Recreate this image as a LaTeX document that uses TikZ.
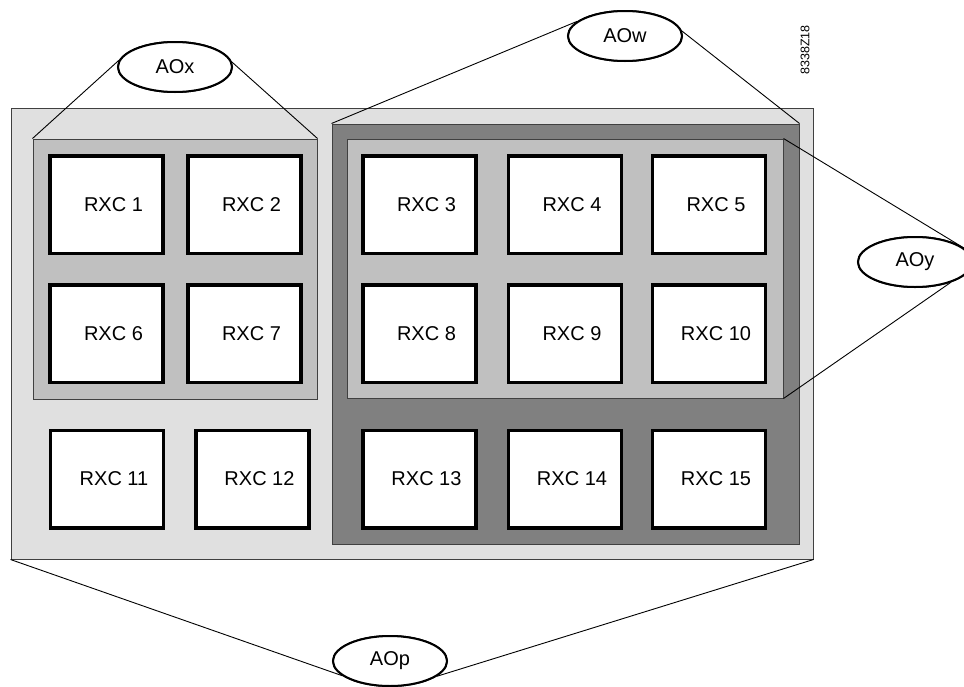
\documentclass[tikz,border=0pt]{standalone}
\usepackage{fontspec}
\setmainfont{Liberation Sans}
\usetikzlibrary{shapes.geometric}
\definecolor{AreaLight}{HTML}{E0E0E0}
\definecolor{AreaMid}{HTML}{C0C0C0}
\definecolor{AreaDark}{HTML}{808080}
\definecolor{AreaEdge}{HTML}{404040}

\begin{document}
\begin{tikzpicture}[x=1pt,y=-1pt,
    every node/.style={font=\fontsize{20}{24}\selectfont, inner sep=0pt},
    area/.style={draw=AreaEdge, line width=1pt, minimum width=#1},
    rxc/.style={draw=black, fill=white, line width=3.5pt, minimum width=113pt, minimum height=97.5pt},
    rxctext/.style={xshift=7pt},
    aotag/.style={ellipse, draw=black, fill=white, line width=2pt, minimum width=114pt, minimum height=50pt},
    tagline/.style={draw=black, line width=0.9pt}]
    \useasboundingbox (0,0) rectangle (964,686);

    % nested areas
    \node[area=802pt, fill=AreaLight, minimum height=451pt] (aop) at (412,333.5) {};
    \node[area=284pt, fill=AreaMid, minimum height=260pt] (aox) at (175,269) {};
    \node[area=467pt, fill=AreaDark, minimum height=420pt] (aow) at (565.5,334) {};
    \node[area=436pt, fill=AreaMid, minimum height=259pt] (aoy) at (565,268.5) {};

    % RXC units
    \node[rxc, label={[rxctext]center:RXC 1}] (rxc1) at (106.5,204.5) {};
    \node[rxc, label={[rxctext]center:RXC 2}] (rxc2) at (244.5,204.5) {};
    \node[rxc, label={[rxctext]center:RXC 3}] (rxc3) at (419.5,204.5) {};
    \node[rxc, label={[rxctext]center:RXC 4}] (rxc4) at (565,204.5) {};
    \node[rxc, label={[rxctext]center:RXC 5}] (rxc5) at (709,204.5) {};
    \node[rxc, label={[rxctext]center:RXC 6}] (rxc6) at (106.5,333.5) {};
    \node[rxc, label={[rxctext]center:RXC 7}] (rxc7) at (244.5,333.5) {};
    \node[rxc, label={[rxctext]center:RXC 8}] (rxc8) at (419.5,333.5) {};
    \node[rxc, label={[rxctext]center:RXC 9}] (rxc9) at (565,333.5) {};
    \node[rxc, label={[rxctext]center:RXC 10}] (rxc10) at (709,333.5) {};
    \node[rxc, label={[rxctext]center:RXC 11}] (rxc11) at (107,479) {};
    \node[rxc, label={[rxctext]center:RXC 12}] (rxc12) at (252.5,479) {};
    \node[rxc, label={[rxctext]center:RXC 13}] (rxc13) at (419.5,479) {};
    \node[rxc, label={[rxctext]center:RXC 14}] (rxc14) at (565,479) {};
    \node[rxc, label={[rxctext]center:RXC 15}] (rxc15) at (709,479) {};

    % area tags
    \node[aotag] (aoxtag) at (175,67) {AOx};
    \node[aotag] (aowtag) at (625,36) {AOw};
    \node[aotag] (aoytag) at (915,262) {AOy};
    \node[aotag] (aoptag) at (390,661) {AOp};

    \draw[tagline] (aox.north west) -- (aoxtag.173);
    \draw[tagline] (aox.north east) -- (aoxtag.5);
    \draw[tagline] (aow.north west) -- (aowtag.163);
    \draw[tagline] (aow.north east) -- (aowtag.5);
    \draw[tagline] (aoy.north east) -- (aoytag.16);
    \draw[tagline] (aoy.south east) -- (aoytag.-30);
    \draw[tagline] (aop.south west) -- (aoptag.197);
    \draw[tagline] (aop.south east) -- (aoptag.-18);

    % redraw tags over their lines
    \node[aotag] at (aoxtag) {AOx};
    \node[aotag] at (aowtag) {AOw};
    \node[aotag] at (aoytag) {AOy};
    \node[aotag] at (aoptag) {AOp};

    \node[rotate=90, font=\fontsize{12.5}{15}\selectfont] (figid) at (805,50) {8338Z18};
\end{tikzpicture}
\end{document}
